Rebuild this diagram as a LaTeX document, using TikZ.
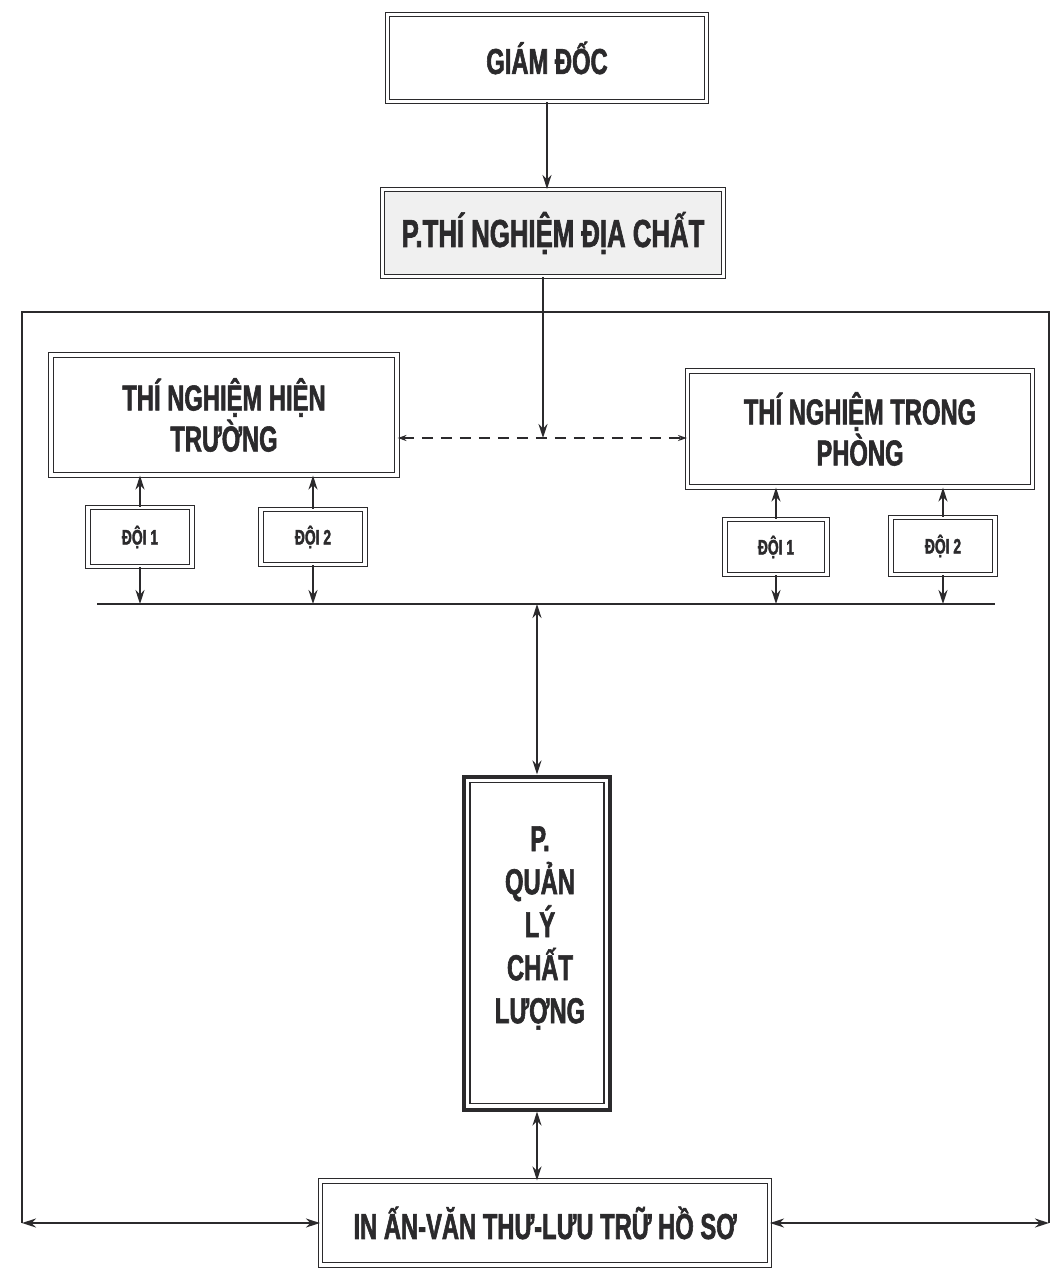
\documentclass[tikz,border=0pt]{standalone}
\usepackage{fontspec}
\setmainfont{Liberation Sans}[FakeStretch=0.66, BoldFeatures={FakeBold=1.6}]
\usetikzlibrary{arrows.meta}
\definecolor{ink}{HTML}{2B2A2C}
\begin{document}
\begin{tikzpicture}[x=1pt,y=-1pt,
  box/.style={draw=ink, double=white, double distance=3.5pt, line width=1.1pt, fill=white,
    align=center, text=ink, inner sep=0pt, font=\bfseries\fontsize{36}{41}\selectfont},
  smallbox/.style={box, font=\bfseries\fontsize{21}{24}\selectfont},
  conn/.style={draw=ink, line width=1.7pt},
  tip/.style={-{Stealth[length=14pt,width=9pt]}},
  tips/.style={{Stealth[length=14pt,width=9pt]}-{Stealth[length=14pt,width=9pt]}},
  dashconn/.style={draw=ink, line width=1.9pt, dash pattern=on 11pt off 8pt,
    {Stealth[length=9pt,width=6pt]}-{Stealth[length=9pt,width=6pt]}},
  txt/.style={align=center, text=ink, inner sep=0pt, font=\bfseries\fontsize{36}{43}\selectfont}
]
\useasboundingbox (0,0) rectangle (1057,1279);
\fill[white] (0,0) rectangle (1057,1279);

% nodes
\node[box, minimum width=319pt, minimum height=87pt] (gd) at (547,58) {GIÁM ĐỐC};
\node[box, fill=gray!12, minimum width=341pt, minimum height=87pt, font=\bfseries\fontsize{39}{41}\selectfont] (ptn) at (553,233) {P.THÍ NGHIỆM ĐỊA CHẤT};
\node[box, minimum width=346pt, minimum height=120pt] (tnht) at (224,415) {THÍ NGHIỆM HIỆN\\TRƯỜNG};
\node[box, minimum width=345pt, minimum height=116pt] (tntp) at (860,429) {THÍ NGHIỆM TRONG\\PHÒNG};
\node[smallbox, minimum width=104pt, minimum height=59pt] (d1l) at (140,537) {ĐỘI 1};
\node[smallbox, minimum width=104pt, minimum height=55pt] (d2l) at (313,537) {ĐỘI 2};
\node[smallbox, minimum width=102pt, minimum height=55pt] (d1r) at (776,547) {ĐỘI 1};
\node[smallbox, minimum width=104pt, minimum height=57pt] (d2r) at (943,546) {ĐỘI 2};
\node[draw=ink, line width=4pt, fill=white, minimum width=146pt, minimum height=333pt, inner sep=0pt] (qlcl) at (537,943) {};
\draw[ink, line width=1.1pt] ([shift={(8,8)}]qlcl.north west) rectangle ([shift={(-8,-8)}]qlcl.south east);
\node[txt] (qlcltext) at (540,928) {P.\\QUẢN\\LÝ\\CHẤT\\LƯỢNG};
\node[box, minimum width=449pt, minimum height=84pt] (inan) at (545,1223) {IN ẤN-VĂN THƯ-LƯU TRỮ HỒ SƠ};

% coordinates
\coordinate (mid) at (543,438);
\coordinate (busL) at (97,604);
\coordinate (busR) at (995,604);
\coordinate (fTL) at (22,312);
\coordinate (fTR) at (1049,312);

% frame
\draw[conn] (inan.west -| fTL) -- (fTL) -- (fTR) -- (inan.east -| fTR);

% connectors
\draw[conn, tip] (gd.south) -- (gd.south |- ptn.north);
\draw[conn, tip] (ptn.south -| mid) -- (mid);
\draw[dashconn] (mid -| tnht.east) -- (mid -| tntp.west);

\draw[conn] (busL) -- (busR);
\foreach \n/\p in {d1l/tnht, d2l/tnht, d1r/tntp, d2r/tntp}{
  \draw[conn, tip] (\n.north) -- (\n.north |- \p.south);
  \draw[conn, tip] (\n.south) -- (\n.south |- busL);
}
\draw[conn, tips] (qlcl.north |- busL) -- (qlcl.north);
\draw[conn, tips] (qlcl.south) -- (qlcl.south |- inan.north);
\draw[conn, tips] (inan.west -| fTL) -- (inan.west);
\draw[conn, tips] (inan.east) -- (inan.east -| fTR);
\end{tikzpicture}
\end{document}
